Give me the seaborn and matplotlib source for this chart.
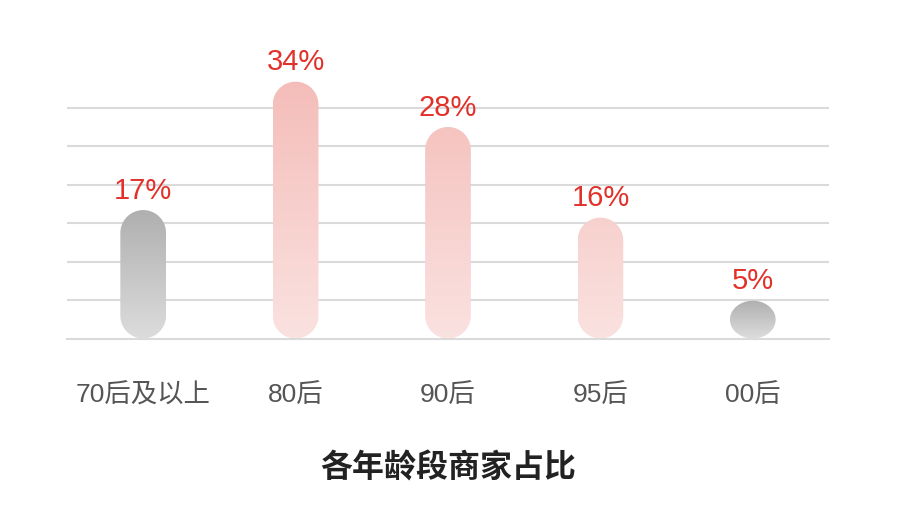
import numpy as np
import pandas as pd
import matplotlib
matplotlib.use("Agg")
import matplotlib.pyplot as plt
import seaborn as sns
from matplotlib.patches import PathPatch
from matplotlib.path import Path
from matplotlib.transforms import IdentityTransform
from matplotlib.colors import to_rgb

# data
age_groups = ['70后及以上', '80后', '90后', '95后', '00后']
share = [17, 34, 28, 16, 5]
highlight = [False, True, True, True, False]

sns.set_theme(style='white')
plt.rcParams['font.family'] = ['Liberation Sans', 'Noto Sans CJK SC', 'DejaVu Sans']

df = pd.DataFrame({'age': age_groups, 'share': share})


def pill_path(x0, y0, x1, y1, n=40):
    # stadium shape in pixel coords, caps squashed if the bar is short
    cx = (x0 + x1) / 2
    rx = (x1 - x0) / 2
    ry = min(rx, (y1 - y0) / 2)
    a_top = np.linspace(0, np.pi, n)
    a_bot = np.linspace(np.pi, 2 * np.pi, n)
    top = np.column_stack([cx + rx * np.cos(a_top), y1 - ry + ry * np.sin(a_top)])
    bot = np.column_stack([cx + rx * np.cos(a_bot), y0 + ry + ry * np.sin(a_bot)])
    pts = np.vstack([top, bot, top[:1]])
    codes = [Path.MOVETO] + [Path.LINETO] * (len(pts) - 2) + [Path.CLOSEPOLY]
    return Path(pts, codes)


fig = plt.figure(figsize=(9.06, 5.09), dpi=100)
ax = fig.add_axes([67 / 906, 1 - 338.5 / 509, 762 / 906, 278 / 509])
sns.barplot(data=df, x='age', y='share', width=0.3, color='white', ax=ax)

ymax = 36.8
grid_step = 5.09
ax.set_xlim(-0.5, len(age_groups) - 0.5)
ax.set_ylim(0, ymax)
ax.set_yticks(np.arange(1, 7) * grid_step)
ax.yaxis.grid(True, color='#dadada', lw=1.5)
ax.set_axisbelow(True)
for s in ['top', 'left', 'right']:
    ax.spines[s].set_visible(False)
ax.spines['bottom'].set_color('#dadada')
ax.spines['bottom'].set_linewidth(1.5)
ax.tick_params(axis='y', left=False, labelleft=False)
ax.tick_params(axis='x', length=0, pad=32, labelsize=19, labelcolor='#555555')
ax.set_xlabel('')
ax.set_ylabel('')

pink_top, pink_bot = np.array(to_rgb('#f4bdb9')), np.array(to_rgb('#fae2e0'))
grey_top, grey_bot = np.array(to_rgb('#afafaf')), np.array(to_rgb('#dcdcdc'))
top_share = max(share)

# swap the flat bars for rounded gradient pills
for p, v, hi in zip(ax.patches, share, highlight):
    x0, w, h = p.get_x(), p.get_width(), p.get_height()
    p.set_visible(False)
    px0, py0 = ax.transData.transform((x0, 0))
    px1, py1 = ax.transData.transform((x0 + w, h))
    clip = PathPatch(pill_path(px0, py0, px1, py1), transform=IdentityTransform(),
                     facecolor='none', edgecolor='none')
    ys = np.linspace(0, h, 200)
    if hi:
        t = (ys / top_share)[:, None]
        cols = pink_bot + (pink_top - pink_bot) * t
    else:
        t = (ys / h)[:, None]
        cols = grey_bot + (grey_top - grey_bot) * t
    img = np.repeat(cols[:, None, :], 2, axis=1)
    im = ax.imshow(img, extent=[x0, x0 + w, 0, h], origin='lower',
                   aspect='auto', zorder=3, interpolation='bilinear')
    im.set_clip_path(clip)
    ax.text(x0 + w / 2, h + 1.5, f'{v}%', ha='center', va='baseline',
            color='#e2312a', fontsize=21, clip_on=False)

ax.set_xlim(-0.5, len(age_groups) - 0.5)
ax.set_ylim(0, ymax)

fig.text(0.495, 0.078, '各年龄段商家占比', ha='center', va='center',
         fontsize=23, fontweight='bold', color='#222222')

fig.savefig('out.png', dpi=100)
